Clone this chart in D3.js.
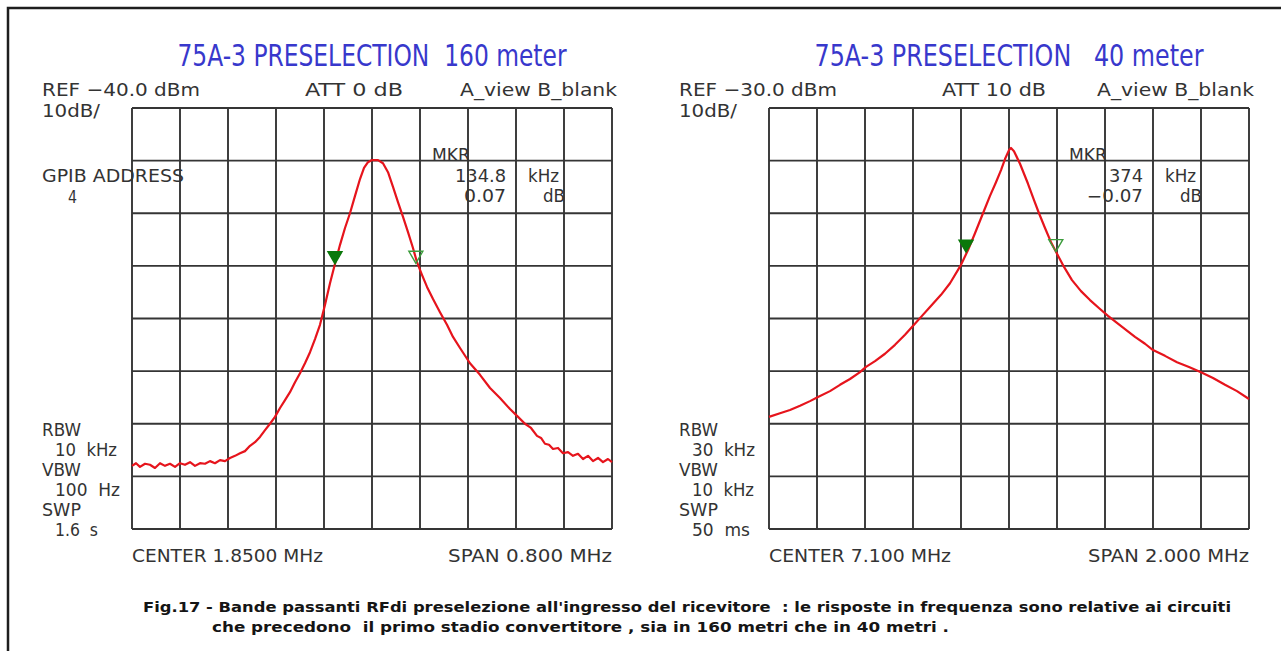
<!DOCTYPE html>
<html lang="it">
<head>
<meta charset="UTF-8">
<title>75A-3 Preselection</title>
<script src="https://d3js.org/d3.v7.min.js"></script>
<style>
  body { margin: 0; background: #fff; }
  svg { display: block; }
  .lbl { font-family: "DejaVu Sans Condensed", "DejaVu Sans", sans-serif; fill: #333; white-space: pre; }
  .title { font-family: "DejaVu Sans Condensed", "DejaVu Sans", sans-serif; fill: #3838cc; white-space: pre; }
  .grid line { stroke: #353535; stroke-width: 1.9; }
  .trace { fill: none; stroke: #e6141c; stroke-width: 2.2; stroke-linejoin: round; }
  .caption { font-family: "DejaVu Sans Condensed", "DejaVu Sans", sans-serif; font-weight: bold; fill: #151515; white-space: pre; }
</style>
</head>
<body>
<svg id="chart" width="1281" height="651"></svg>
<script>
// --- 160 m trace (MHz, dBm) ---
const freq160 = [1.4500, 1.4567, 1.4633, 1.4717, 1.4800, 1.4883, 1.4967, 1.5050, 1.5133, 1.5217,
  1.5300, 1.5383, 1.5467, 1.5550, 1.5633, 1.5717, 1.5800, 1.5883, 1.5967, 1.6050,
  1.6133, 1.6217, 1.6300, 1.6383, 1.6467, 1.6550, 1.6633, 1.6717, 1.6800, 1.6883,
  1.6967, 1.7050, 1.7133, 1.7217, 1.7300, 1.7383, 1.7467, 1.7550, 1.7633, 1.7717,
  1.7800, 1.7883, 1.7967, 1.8050, 1.8133, 1.8217, 1.8300, 1.8367, 1.8433, 1.8500,
  1.8600, 1.8683, 1.8767, 1.8850, 1.8933, 1.9017, 1.9100, 1.9183, 1.9250, 1.9333,
  1.9417, 1.9517, 1.9633, 1.9750, 1.9850, 1.9967, 2.0133, 2.0300, 2.0467, 2.0633,
  2.0800, 2.0917, 2.1050, 2.1150, 2.1250, 2.1317, 2.1383, 2.1450, 2.1517, 2.1600,
  2.1683, 2.1767, 2.1850, 2.1933, 2.2017, 2.2100, 2.2183, 2.2267, 2.2350, 2.2433, 2.2500];
const level160 = [-108.0, -107.5, -108.2, -107.6, -107.8, -108.4, -107.5, -108.0, -107.6, -108.2,
  -107.5, -107.8, -107.3, -108.0, -107.5, -107.6, -107.1, -107.5, -106.9, -107.1,
  -106.5, -106.1, -105.6, -105.2, -104.2, -103.5, -102.5, -101.2, -100.0, -98.7,
  -97.0, -95.5, -94.0, -92.1, -90.4, -88.5, -86.4, -83.9, -81.2, -77.4,
  -73.3, -69.6, -66.0, -62.8, -60.0, -56.7, -53.5, -51.4, -50.3, -49.9,
  -49.9, -50.5, -52.2, -55.0, -57.9, -60.7, -63.6, -66.6, -69.3, -71.7,
  -74.0, -76.3, -78.8, -81.2, -83.5, -85.6, -88.5, -90.7, -93.2, -95.1,
  -97.2, -98.5, -100.0, -100.8, -102.3, -102.7, -103.8, -104.0, -104.8, -104.6,
  -105.6, -105.4, -106.1, -105.7, -106.7, -106.1, -107.1, -106.5, -107.3, -106.7, -107.3];

// --- 40 m trace (MHz, dBm) ---
const freq40 = [6.1000, 6.1458, 6.1875, 6.2292, 6.2708, 6.3042, 6.3542, 6.3958, 6.4375, 6.4792,
  6.5042, 6.5417, 6.5833, 6.6250, 6.6667, 6.7042, 6.7375, 6.7708, 6.8167, 6.8542,
  6.9000, 6.9292, 6.9583, 6.9917, 7.0208, 7.0458, 7.0667, 7.0833, 7.1000, 7.1083,
  7.1208, 7.1458, 7.1792, 7.2042, 7.2250, 7.2500, 7.2750, 7.3000, 7.3292, 7.3625,
  7.4000, 7.4375, 7.4792, 7.5125, 7.5458, 7.5833, 7.6250, 7.6667, 7.7000, 7.7500,
  7.8000, 7.8500, 7.9000, 7.9500, 8.0000, 8.0500, 8.1000];
const level40 = [-88.7, -88.0, -87.4, -86.6, -85.7, -84.9, -83.8, -82.6, -81.5, -80.2,
  -79.2, -78.1, -76.7, -75.0, -73.1, -71.2, -69.5, -67.8, -65.5, -63.3,
  -59.8, -57.0, -53.8, -50.0, -46.7, -44.1, -41.8, -39.7, -38.0, -37.6,
  -38.2, -40.6, -44.4, -47.5, -50.0, -52.8, -55.5, -57.7, -60.2, -62.7,
  -64.8, -66.5, -68.2, -69.5, -70.7, -72.0, -73.5, -74.8, -76.0, -77.1,
  -78.3, -79.2, -80.2, -81.3, -82.6, -83.8, -85.3];

// markers: [filled, open]
const markerFreq160 = [1.7883, 1.9231];
const markerLevel160 = [-69.6, -69.5];
const markerFreq40 = [6.921, 7.295];
const markerLevel40 = [-57.4, -57.3];

// analyzer settings
const titles = ["75A-3 PRESELECTION  160 meter", "75A-3 PRESELECTION   40 meter"];
const refLevels = [-40, -30];
const centers = [1.85, 7.1];
const spans = [0.8, 2.0];
const header160 = ["REF \u221240.0 dBm", "ATT 0 dB", "A_view B_blank"];
const header40 = ["REF \u221230.0 dBm", "ATT 10 dB", "A_view B_blank"];
const mkr160 = ["134.8", "0.07"];
const mkr40 = ["374", "\u22120.07"];
const bw160 = ["RBW", "10  kHz", "VBW", "100  Hz", "SWP", "1.6  s"];
const bw40 = ["RBW", "30  kHz", "VBW", "10  kHz", "SWP", "50  ms"];
const footer160 = ["CENTER 1.8500 MHz", "SPAN 0.800 MHz"];
const footer40 = ["CENTER 7.100 MHz", "SPAN 2.000 MHz"];
const caption = [
  "Fig.17 - Bande passanti RFdi preselezione all'ingresso del ricevitore  : le risposte in frequenza sono relative ai circuiti",
  "che precedono  il primo stadio convertitore , sia in 160 metri che in 40 metri ."
];

const svg = d3.select("#chart");

// frame (cropped scan: only top and left edges visible)
svg.append("path").attr("d", "M8,651V8H1281").attr("fill", "none")
  .attr("stroke", "#1e1e1e").attr("stroke-width", 2.5);

function txt(g, x, y, s, size, width, anchor, cls) {
  const t = g.append("text").attr("class", cls || "lbl")
    .attr("x", x).attr("y", y)
    .attr("font-size", size)
    .attr("text-anchor", anchor || "start")
    .text(s);
  if (width) t.attr("textLength", width).attr("lengthAdjust", "spacingAndGlyphs");
  return t;
}

function drawPanel(p) {
  const gx0 = p.left, gx1 = p.left + 480, gy0 = 108, gy1 = 529;
  const x = d3.scaleLinear().domain([p.center - p.span / 2, p.center + p.span / 2]).range([gx0, gx1]);
  const y = d3.scaleLinear().domain([p.ref - 80, p.ref]).range([gy1, gy0]);
  const g = svg.append("g");

  // graticule 10 x 8
  const grid = g.append("g").attr("class", "grid");
  grid.selectAll(".v").data(d3.range(11).map(i => x.domain()[0] + i * p.span / 10))
    .join("line").attr("class", "v")
    .attr("x1", d => x(d)).attr("x2", d => x(d)).attr("y1", gy0).attr("y2", gy1);
  grid.selectAll(".h").data(d3.range(9).map(i => p.ref - i * 10))
    .join("line").attr("class", "h")
    .attr("x1", gx0).attr("x2", gx1).attr("y1", d => y(d)).attr("y2", d => y(d));

  // trace
  const line = d3.line().x(d => x(d[0])).y(d => y(d[1]));
  g.append("path").attr("class", "trace")
    .attr("d", line(d3.zip(p.freq, p.level)));

  // markers: triangle tip on the trace
  p.mFreq.forEach((f, i) => {
    const mx = x(f), my = y(p.mLevel[i]);
    g.append("path")
      .attr("d", `M${mx - 7},${my - 12}L${mx + 7},${my - 12}L${mx},${my}Z`)
      .attr("fill", i === 0 ? "#0b780b" : "none")
      .attr("stroke", i === 0 ? "#0b780b" : "#3c9c3c")
      .attr("stroke-width", 1.4);
  });

  // texts
  txt(g, (gx0 + gx1) / 2, 66, p.title, 30, p.titleW, "middle", "title");
  txt(g, gx0 - 90, 96, p.header[0], 18, 158);
  txt(g, gx0 + 173, 96, p.header[1], 18, p.attW);
  txt(g, gx0 + 328, 96, p.header[2], 18, 157);
  txt(g, gx0 - 90, 117, "10dB/", 18, 58);

  txt(g, gx0 + 300, 161, "MKR", 17, 38);
  txt(g, gx0 + 374, 182, p.mkr[0], 17, p.mkrW[0], "end");
  txt(g, gx0 + 396, 182, "kHz", 17, 31);
  txt(g, gx0 + 374, 202, p.mkr[1], 17, p.mkrW[1], "end");
  txt(g, gx0 + 433, 202, "dB", 17, 22, "end");

  p.bw.forEach((s, i) => {
    txt(g, i % 2 ? gx0 - 77 : gx0 - 90, 436 + i * 20, s, 17, p.bwW[i]);
  });

  txt(g, gx0, 562, p.footer[0], 18, p.footW[0]);
  txt(g, gx1, 562, p.footer[1], 18, p.footW[1], "end");
  return g;
}

const left = drawPanel({
  left: 132, center: centers[0], span: spans[0], ref: refLevels[0],
  freq: freq160, level: level160, mFreq: markerFreq160, mLevel: markerLevel160,
  title: titles[0], titleW: 389, header: header160, attW: 98,
  mkr: mkr160, mkrW: [51, 42], bw: bw160, bwW: [39, 62, 39, 65, 39, 43],
  footer: footer160, footW: [191, 164]
});
txt(left, 42, 182, "GPIB ADDRESS", 17, 142);
txt(left, 68, 203, "4", 17, 9);

drawPanel({
  left: 769, center: centers[1], span: spans[1], ref: refLevels[1],
  freq: freq40, level: level40, mFreq: markerFreq40, mLevel: markerLevel40,
  title: titles[1], titleW: 389, header: header40, attW: 104,
  mkr: mkr40, mkrW: [34, 56], bw: bw40, bwW: [39, 63, 39, 62, 39, 58],
  footer: footer40, footW: [182, 161]
});

txt(svg, 143, 612, caption[0], 14.5, 1088, "start", "caption");
txt(svg, 212, 632, caption[1], 14.5, 737, "start", "caption");
</script>
</body>
</html>
